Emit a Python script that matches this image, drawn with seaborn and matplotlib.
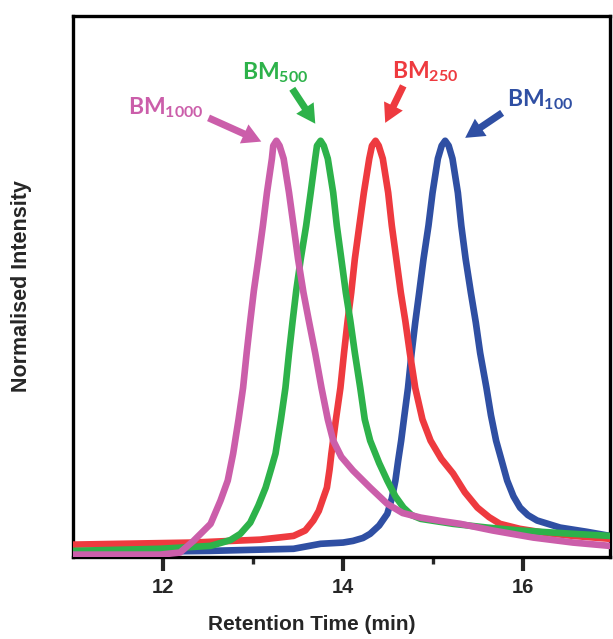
import matplotlib
matplotlib.use("Agg")
import matplotlib.pyplot as plt
import seaborn as sns
import pandas as pd

# ---- data ----
pink_x = [11.00, 11.97, 12.19, 12.34, 12.53, 12.64, 12.72, 12.78, 12.84, 12.89, 12.93, 12.97, 13.01, 13.06,
          13.11, 13.155, 13.21, 13.225, 13.26, 13.295, 13.34, 13.40, 13.45, 13.50, 13.56, 13.62, 13.69, 13.76,
          13.83, 13.89, 13.98, 14.11, 14.30, 14.49, 14.66, 14.86, 15.08, 15.30, 15.66, 16.11, 16.55, 16.96]
pink_y = [0.005, 0.005, 0.010, 0.038, 0.079, 0.135, 0.183, 0.248, 0.330, 0.406, 0.490, 0.567, 0.640, 0.716,
          0.796, 0.875, 0.957, 0.988, 1.000, 0.988, 0.957, 0.875, 0.796, 0.716, 0.635, 0.567, 0.490, 0.406,
          0.330, 0.279, 0.240, 0.207, 0.166, 0.127, 0.105, 0.094, 0.086, 0.079, 0.063, 0.046, 0.034, 0.026]

green_x = [11.00, 11.97, 12.53, 12.75, 12.86, 12.97, 13.06, 13.14, 13.20, 13.25, 13.31, 13.36, 13.40, 13.44,
           13.48, 13.53, 13.59, 13.64, 13.69, 13.71, 13.75, 13.785, 13.83, 13.89, 13.93, 13.98, 14.03, 14.08,
           14.13, 14.19, 14.24, 14.30, 14.40, 14.49, 14.58, 14.67, 14.76, 14.86, 15.22, 15.60, 15.96, 16.55, 16.96]
green_y = [0.014, 0.019, 0.026, 0.040, 0.055, 0.082, 0.123, 0.166, 0.210, 0.248, 0.330, 0.406, 0.490, 0.567,
           0.640, 0.716, 0.796, 0.875, 0.957, 0.988, 1.000, 0.988, 0.957, 0.875, 0.796, 0.716, 0.635, 0.567,
           0.490, 0.406, 0.330, 0.279, 0.225, 0.183, 0.145, 0.118, 0.100, 0.091, 0.079, 0.070, 0.063, 0.055, 0.050]

red_x = [11.00, 12.34, 13.08, 13.45, 13.58, 13.67, 13.73, 13.77, 13.82, 13.85, 13.87, 13.92, 13.97, 14.01,
         14.05, 14.09, 14.13, 14.18, 14.23, 14.29, 14.32, 14.36, 14.395, 14.44, 14.50, 14.54, 14.59, 14.64,
         14.69, 14.74, 14.80, 14.88, 14.97, 15.09, 15.22, 15.35, 15.49, 15.62, 15.74, 15.96, 16.25, 16.55, 16.96]
red_y = [0.029, 0.034, 0.041, 0.050, 0.063, 0.087, 0.110, 0.135, 0.166, 0.210, 0.248, 0.330, 0.406, 0.490,
         0.567, 0.635, 0.716, 0.796, 0.875, 0.957, 0.988, 1.000, 0.988, 0.957, 0.875, 0.796, 0.716, 0.635,
         0.567, 0.490, 0.406, 0.330, 0.279, 0.235, 0.200, 0.155, 0.118, 0.095, 0.079, 0.067, 0.057, 0.050, 0.043]

blue_x = [11.00, 12.53, 13.45, 13.75, 14.00, 14.11, 14.22, 14.30, 14.40, 14.49, 14.54, 14.58, 14.61, 14.644,
          14.68, 14.72, 14.76, 14.80, 14.844, 14.892, 14.947, 14.992, 15.051, 15.093, 15.132, 15.171, 15.213,
          15.273, 15.311, 15.359, 15.417, 15.472, 15.52, 15.59, 15.64, 15.697, 15.76, 15.82, 15.89, 15.963,
          16.05, 16.152, 16.407, 16.70, 16.96]
blue_y = [0.010, 0.014, 0.019, 0.031, 0.034, 0.038, 0.045, 0.055, 0.075, 0.103, 0.140, 0.183, 0.230, 0.279,
          0.340, 0.406, 0.490, 0.563, 0.635, 0.716, 0.796, 0.875, 0.957, 0.988, 1.000, 0.988, 0.957,
          0.875, 0.796, 0.716, 0.635, 0.563, 0.490, 0.406, 0.340, 0.279, 0.230, 0.183, 0.145, 0.118,
          0.100, 0.087, 0.070, 0.060, 0.050]

series_names = ["BM100", "BM250", "BM500", "BM1000"]
sub_labels = ["100", "250", "500", "1000"]
colors = ["#2F4FA3", "#EE3A3F", "#2DB24A", "#CB5EAA"]

x_ticks = [12, 14, 16]
x_minor = [13, 15]

# annotation geometry (data coords)
label_pos = [(15.82, 1.084), (14.544, 1.151), (12.881, 1.149), (11.618, 1.065)]
arrow_start = [(15.764, 1.067), (14.667, 1.132), (13.436, 1.125), (12.507, 1.055)]
arrow_tip = [(15.354, 1.007), (14.467, 1.043), (13.691, 1.041), (13.092, 0.998)]

# ---- plotting ----
sns.set_theme(style="white")
plt.rcParams["mathtext.fontset"] = "custom"
plt.rcParams["mathtext.bf"] = "Lato:bold"
plt.rcParams["mathtext.rm"] = "Lato"

fig = plt.figure(figsize=(6.13, 6.39), dpi=100)
ax = fig.add_axes([0.1186, 0.1288, 0.8764, 0.8462])

data = {
    "BM100": (blue_x, blue_y),
    "BM250": (red_x, red_y),
    "BM500": (green_x, green_y),
    "BM1000": (pink_x, pink_y),
}
for i, name in enumerate(series_names):
    xs, ys = data[name]
    df = pd.DataFrame({"t": xs, "I": ys})
    sns.lineplot(data=df, x="t", y="I", ax=ax, color=colors[i], lw=4.8,
                 estimator=None, sort=False, zorder=2 + i)

for i, name in enumerate(series_names):
    ax.text(label_pos[i][0], label_pos[i][1], r"$\mathbf{BM}_{\mathbf{%s}}$" % sub_labels[i],
            color=colors[i], fontsize=16.5, ha="left", va="baseline")
    ax.annotate("", xy=arrow_tip[i], xytext=arrow_start[i],
                arrowprops=dict(arrowstyle="simple,head_length=0.9,head_width=1.0,tail_width=0.34",
                                color=colors[i], lw=0, shrinkA=0, shrinkB=0, mutation_scale=15))

ax.set_xlim(11.0, 16.96)
ax.set_ylim(0, 1.3)
ax.set_xticks(x_ticks)
ax.set_xticks(x_minor, minor=True)
ax.set_xticklabels([str(t) for t in x_ticks], fontsize=14.5, fontweight="bold",
                   family="Liberation Sans")
ax.set_yticks([])
ax.tick_params(axis="x", which="major", direction="out", length=10, width=3, pad=5, bottom=True)
ax.tick_params(axis="x", which="minor", direction="out", length=5, width=2.4, bottom=True)

for sp in ax.spines.values():
    sp.set_visible(True)
    sp.set_linewidth(2.4)
    sp.set_color("black")

ax.set_xlabel("Retention Time (min)", fontsize=15, fontweight="bold", family="Liberation Sans")
ax.set_ylabel("Normalised Intensity", fontsize=15.5, fontweight="bold", family="Liberation Sans")
ax.xaxis.set_label_coords(0.445, -0.108)
ax.yaxis.set_label_coords(-0.075, 0.5)

fig.savefig("out.png", dpi=100, facecolor="white")
